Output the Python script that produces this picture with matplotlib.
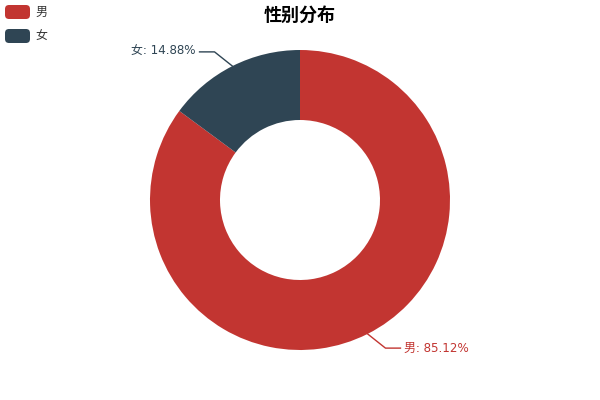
import numpy as np
import matplotlib
matplotlib.use("Agg")
import matplotlib.pyplot as plt
from matplotlib.patches import FancyBboxPatch

plt.rcParams['font.family'] = ['DejaVu Sans', 'Noto Sans CJK SC']

title = "性别分布"
categories = ["男", "女"]
values = [85.12, 14.88]
colors = ["#c23531", "#2f4554"]

W, H = 600, 400
fig = plt.figure(figsize=(6, 4), dpi=100)
ax = fig.add_axes([0, 0, 1, 1])
ax.set_xlim(0, W)
ax.set_ylim(0, H)
ax.set_aspect('equal')
ax.axis('off')

cx, cy = 300, H - 200
R, r_in = 150, 80
ax.pie(values, colors=colors, startangle=90, counterclock=False,
       radius=R, center=(cx, cy), frame=True,
       wedgeprops=dict(width=R - r_in, linewidth=0))
ax.set_xlim(0, W)
ax.set_ylim(0, H)
ax.axis('off')

# labels with leader lines
total = sum(values)
start = 90.0
px = 1.0
for cat, val, col in zip(categories, values, colors):
    span = val / total * 360
    mid = start - span / 2
    start -= span
    a = np.deg2rad(mid)
    p0 = (cx + R * np.cos(a), cy + R * np.sin(a))
    # shift elbow slightly toward vertical
    adj = 3.2 if np.cos(a) < 0 else -3.2
    if np.sin(a) < 0:
        adj = -adj
    b = np.deg2rad(mid + adj)
    p1 = (cx + 171 * np.cos(b), cy + 171 * np.sin(b))
    side = 1 if np.cos(a) >= 0 else -1
    p2 = (p1[0] + side * 15, p1[1])
    ax.plot([p0[0], p1[0], p2[0]], [p0[1], p1[1], p2[1]], color=col, lw=1)
    ax.text(p2[0] + side * 4, p2[1], f"{cat}: {val:.2f}%", color=col,
            fontsize=8.6, ha='left' if side > 0 else 'right', va='center')

# title
ax.text(300, H - 15, title, fontsize=13, fontweight='bold', color='#000000',
        ha='center', va='center', family=['Noto Sans CJK SC', 'DejaVu Sans'])

# legend
for i, (cat, col) in enumerate(zip(categories, colors)):
    y_top = 5 + i * 24
    box = FancyBboxPatch((5, H - y_top - 14), 25, 14,
                         boxstyle="round,pad=0,rounding_size=4",
                         facecolor=col, edgecolor='none')
    ax.add_patch(box)
    ax.text(35, H - y_top - 7, cat, fontsize=8.6, color='#333333',
            ha='left', va='center')

fig.savefig("out.png", dpi=100)
